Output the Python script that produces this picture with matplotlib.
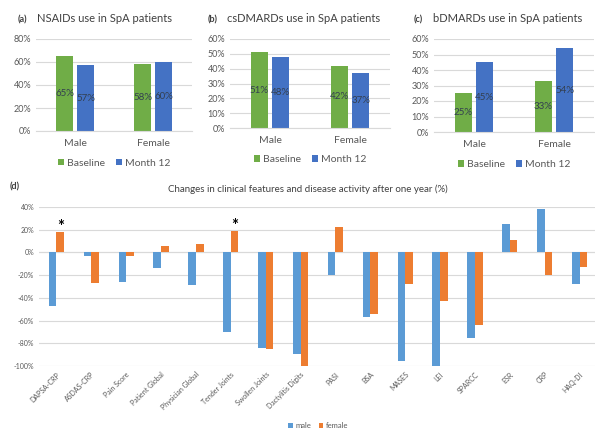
import matplotlib
matplotlib.use("Agg")
import matplotlib.pyplot as plt
import numpy as np

plt.rcParams["font.family"] = ["Lato", "DejaVu Sans"]

W, H = 595, 429

groups = ["Male", "Female"]
nsaid_base = [65, 58]
nsaid_m12 = [57, 60]
csdmard_base = [51, 42]
csdmard_m12 = [48, 37]
bdmard_base = [25, 33]
bdmard_m12 = [45, 54]

features = ["DAPSA-CRP", "ASDAS-CRP", "Pain Score", "Patient Global", "Physician Global",
            "Tender Joints", "Swollen Joints", "Dactylitis Digits", "PASI", "BSA", "MASES",
            "LEI", "SPARCC", "ESR", "CRP", "HAQ-DI"]
male_change = [-47, -3, -26, -14, -29, -70, -84, -89, -20, -57, -96, -100, -75, 25, 38, -28]
female_change = [18, -27, -3, 6, 7, 19, -85, -100, 22, -54, -28, -43, -64, 11, -20, -13]
starred = ["DAPSA-CRP", "Tender Joints"]

GREEN = "#70AD47"
BLUE = "#4472C4"
MALE = "#5B9BD5"
FEMALE = "#ED7D31"
GRID = "#D9D9D9"
TXT = "#595959"


def px_axes(fig, x0, y0, x1, y1):
    # pixel box (top-left origin) -> figure coords
    return fig.add_axes([x0 / W, 1 - y1 / H, (x1 - x0) / W, (y1 - y0) / H])


def style(ax, ymax, step):
    ax.set_ylim(0, ymax)
    ax.set_yticks(np.arange(0, ymax + 0.1, step))
    ax.set_yticklabels([f"{int(v)}%" for v in np.arange(0, ymax + 0.1, step)])
    for s in ["top", "right", "left"]:
        ax.spines[s].set_visible(False)
    ax.spines["bottom"].set_color(GRID)
    ax.grid(axis="y", color=GRID, linewidth=0.8)
    ax.set_axisbelow(True)
    ax.tick_params(length=0, labelsize=6.5, colors=TXT)


def usage_panel(fig, box, base, m12, ymax, step, letter, title, letter_px):
    ax = px_axes(fig, *box)
    x = np.arange(len(groups))
    b1 = ax.bar(x - 0.135, base, 0.21, color=GREEN, label="Baseline")
    b2 = ax.bar(x + 0.135, m12, 0.21, color=BLUE, label="Month 12")
    for bars in (b1, b2):
        ax.bar_label(bars, labels=[f"{v}%" for v in bars.datavalues],
                     label_type="center", fontsize=7, color="#333F50")
    ax.set_xlim(-0.5, 1.5)
    ax.set_xticks(x)
    ax.set_xticklabels(groups)
    style(ax, ymax, step)
    ax.tick_params(axis="x", pad=6, labelsize=7.5)
    fig.text(letter_px / W, 1 - 20 / H, letter, fontsize=6.5, fontweight="bold",
             color="#404040", va="center")
    fig.text((letter_px + 19) / W, 1 - 19 / H, title, fontsize=8,
             color="#404040", va="center")
    ax.legend(loc="upper center", bbox_to_anchor=(0.5, -0.2), ncol=2, frameon=False,
              fontsize=7.5, handlelength=0.6, handleheight=0.6, columnspacing=1.0,
              handletextpad=0.3, labelcolor=TXT)
    return ax


fig = plt.figure(figsize=(W / 100, H / 100), dpi=100)

usage_panel(fig, (36, 39, 192, 131), nsaid_base, nsaid_m12, 80, 20, "(a)",
            "NSAIDs use in SpA patients", 18)
usage_panel(fig, (230, 39, 390, 128), csdmard_base, csdmard_m12, 60, 10, "(b)",
            "csDMARDs use in SpA patients", 208)
usage_panel(fig, (434, 39, 594, 132), bdmard_base, bdmard_m12, 60, 10, "(c)",
            "bDMARDs use in SpA patients", 414)

# panel (d)
ax = px_axes(fig, 39, 207, 597, 366)
x = np.arange(len(features))
ax.bar(x - 0.11, male_change, 0.22, color=MALE, label="male")
ax.bar(x + 0.11, female_change, 0.22, color=FEMALE, label="female")
for name in starred:
    i = features.index(name)
    ax.text(i + 0.11, female_change[i] - 2.5, "*", ha="center", va="bottom",
            fontsize=12, fontweight="bold", color="black")
ax.set_xlim(-0.5, len(features) - 0.5)
ax.set_ylim(-100, 40)
ax.set_yticks(np.arange(-100, 41, 20))
ax.set_yticklabels([f"{v}%" for v in range(-100, 41, 20)])
for s in ax.spines.values():
    s.set_visible(False)
ax.grid(axis="y", color=GRID, linewidth=0.8)
ax.set_axisbelow(True)
ax.axhline(0, color=GRID, linewidth=0.8, zorder=0)
ax.tick_params(length=0, labelsize=5, colors=TXT)
ax.set_xticks(x)
ax.set_xticklabels(features, rotation=45, ha="right", rotation_mode="anchor", fontsize=5)
fig.text(10 / W, 1 - 187 / H, "(d)", fontsize=6.5, fontweight="bold",
         color="#404040", va="center")
fig.text(308 / W, 1 - 189 / H,
         "Changes in clinical features and disease activity after one year (%)",
         fontsize=7, color="#404040", ha="center", va="center")
ax.legend(loc="center", bbox_to_anchor=(0.5, -0.375), ncol=2, frameon=False,
          fontsize=5.5, handlelength=0.6, handleheight=0.6, columnspacing=1.0,
          handletextpad=0.3, labelcolor=TXT)

fig.savefig("out.png", dpi=100)
